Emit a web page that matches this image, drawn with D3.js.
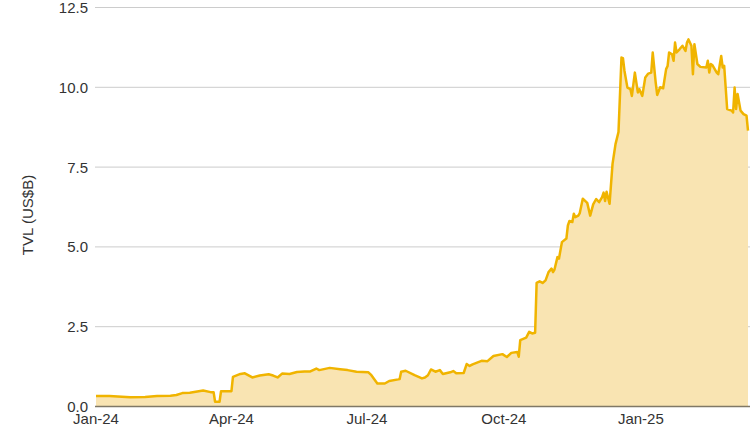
<!DOCTYPE html>
<html>
<head>
<meta charset="utf-8">
<script src="https://cdn.jsdelivr.net/npm/d3@7"></script>
<style>
  body { margin: 0; background: #fff; }
  text { font-family: "Liberation Sans", Arial, sans-serif; }
</style>
</head>
<body>
<div id="chart-area"></div>
<script>
// Data
const dates = [
  "2024-01-01","2024-01-10","2024-01-24","2024-02-03","2024-02-11","2024-02-20","2024-02-24","2024-02-28",
  "2024-03-04","2024-03-13","2024-03-18","2024-03-20","2024-03-21","2024-03-24","2024-03-25","2024-04-01",
  "2024-04-02","2024-04-07","2024-04-10","2024-04-15","2024-04-20","2024-04-26","2024-04-29","2024-05-02",
  "2024-05-05","2024-05-10","2024-05-15","2024-05-20","2024-05-24","2024-05-28","2024-05-30","2024-06-06",
  "2024-06-13","2024-06-18","2024-06-24","2024-07-02","2024-07-04","2024-07-08","2024-07-13","2024-07-16",
  "2024-07-22","2024-07-23","2024-07-24","2024-07-27","2024-08-02","2024-08-07","2024-08-09","2024-08-11",
  "2024-08-13","2024-08-16","2024-08-19","2024-08-21","2024-08-26","2024-08-28","2024-08-30","2024-09-04",
  "2024-09-06","2024-09-08","2024-09-10","2024-09-16","2024-09-20","2024-09-24","2024-09-30","2024-10-03",
  "2024-10-06","2024-10-10","2024-10-11","2024-10-12","2024-10-16","2024-10-18","2024-10-20","2024-10-22",
  "2024-10-23","2024-10-25","2024-10-27","2024-10-29","2024-10-31","2024-11-02","2024-11-03","2024-11-04",
  "2024-11-06","2024-11-07","2024-11-09","2024-11-12","2024-11-13","2024-11-14","2024-11-16","2024-11-17",
  "2024-11-18","2024-11-20","2024-11-21","2024-11-23","2024-11-26","2024-11-28","2024-11-30","2024-12-02",
  "2024-12-04","2024-12-06","2024-12-07","2024-12-08","2024-12-09","2024-12-11","2024-12-13","2024-12-15",
  "2024-12-17","2024-12-19","2024-12-20","2024-12-21","2024-12-23","2024-12-25","2024-12-26","2024-12-28",
  "2024-12-30","2024-12-31","2025-01-02","2025-01-04","2025-01-06","2025-01-08","2025-01-09","2025-01-11",
  "2025-01-12","2025-01-14","2025-01-16","2025-01-18","2025-01-19","2025-01-20","2025-01-22","2025-01-23",
  "2025-01-24","2025-01-25","2025-01-27","2025-01-29","2025-01-31","2025-02-01","2025-02-02","2025-02-04",
  "2025-02-05","2025-02-06","2025-02-08","2025-02-10","2025-02-14","2025-02-15","2025-02-16","2025-02-17",
  "2025-02-18","2025-02-21","2025-02-22","2025-02-24","2025-02-25","2025-02-26","2025-02-28","2025-03-03",
  "2025-03-04","2025-03-05","2025-03-06","2025-03-07","2025-03-09","2025-03-11","2025-03-13","2025-03-14"
]
const tvl = [
  0.33,0.33,0.29,0.30,0.33,0.34,0.36,0.42,
  0.43,0.50,0.45,0.45,0.15,0.15,0.48,0.48,
  0.93,1.02,1.04,0.91,0.97,1.01,0.97,0.91,
  1.03,1.02,1.08,1.10,1.10,1.19,1.14,1.21,
  1.17,1.14,1.09,1.07,0.98,0.72,0.72,0.80,
  0.85,0.86,1.09,1.12,0.98,0.88,0.91,0.98,
  1.16,1.09,1.14,1.02,1.07,1.11,1.04,1.05,
  1.33,1.27,1.32,1.43,1.42,1.58,1.64,1.55,
  1.68,1.71,1.56,2.08,2.16,2.34,2.29,2.31,
  3.87,3.92,3.87,3.95,4.21,4.32,4.21,4.29,
  4.68,4.63,5.15,5.26,5.67,5.81,5.78,6.04,
  5.93,5.98,6.06,6.51,6.38,5.98,6.33,6.50,
  6.40,6.56,6.70,6.44,6.73,6.35,7.60,8.22,
  8.60,10.93,10.91,10.52,9.99,9.94,9.73,10.46,
  9.84,9.94,9.73,10.31,10.43,10.46,11.09,10.15,
  9.76,10.00,9.97,10.57,10.67,11.09,11.03,10.83,
  11.40,11.09,11.19,11.30,11.14,11.40,11.50,11.30,
  10.41,11.35,10.73,10.64,10.62,10.83,10.46,10.73,
  10.70,10.46,10.41,10.98,10.62,10.67,9.32,9.27,
  9.21,9.99,9.32,9.79,9.27,9.16,9.11,8.64
]
const yTicks = [0, 2.5, 5, 7.5, 10, 12.5]
const xTicks = ["2024-01-01","2024-04-01","2024-07-01","2024-10-01","2025-01-01"]
const xDomain = ["2024-01-01","2025-03-14"]

const W = 750, H = 430
const MARGIN = { LEFT: 96, RIGHT: 2, TOP: 7.5, BOTTOM: 23.5 }

const parse = d3.timeParse("%Y-%m-%d")
const data = dates.map((d, i) => ({ date: parse(d), value: tvl[i] }))

const svg = d3.select("#chart-area").append("svg")
  .attr("width", W)
  .attr("height", H)

const x = d3.scaleTime()
  .domain(xDomain.map(parse))
  .range([MARGIN.LEFT, W - MARGIN.RIGHT])
const y = d3.scaleLinear()
  .domain([0, 12.5])
  .range([H - MARGIN.BOTTOM, MARGIN.TOP])

// grid
svg.append("g")
  .selectAll("line")
  .data(yTicks)
  .join("line")
  .attr("x1", MARGIN.LEFT - 1)
  .attr("x2", W)
  .attr("y1", d => y(d))
  .attr("y2", d => y(d))
  .attr("stroke", "#cccccc")
  .attr("stroke-width", 1)

// y tick labels
svg.append("g")
  .selectAll("text")
  .data(yTicks)
  .join("text")
  .attr("x", 88)
  .attr("y", d => y(d))
  .attr("dy", "0.36em")
  .attr("text-anchor", "end")
  .attr("fill", "#333")
  .style("font-size", "15px")
  .text(d3.format(".1f"))

// area + line
const area = d3.area()
  .x(d => x(d.date))
  .y0(y(0))
  .y1(d => y(d.value))
const line = d3.line()
  .x(d => x(d.date))
  .y(d => y(d.value))

svg.append("path")
  .datum(data)
  .attr("d", area)
  .attr("fill", "#f9e4b2")

svg.append("path")
  .datum(data)
  .attr("d", line)
  .attr("fill", "none")
  .attr("stroke", "#f0b400")
  .attr("stroke-width", 2.5)
  .attr("stroke-linejoin", "round")

// baseline
svg.append("line")
  .attr("x1", MARGIN.LEFT - 1)
  .attr("x2", W)
  .attr("y1", y(0))
  .attr("y2", y(0))
  .attr("stroke", "#807866")
  .attr("stroke-width", 1.5)

// x tick labels
const fmt = d3.timeFormat("%b-%y")
svg.append("g")
  .selectAll("text")
  .data(xTicks.map(parse))
  .join("text")
  .attr("x", d => x(d))
  .attr("y", 424)
  .attr("text-anchor", "middle")
  .attr("fill", "#333")
  .style("font-size", "15px")
  .text(d => fmt(d))

// y axis title
svg.append("text")
  .attr("transform", "translate(33,215) rotate(-90)")
  .attr("text-anchor", "middle")
  .attr("fill", "#333")
  .style("font-size", "15px")
  .text("TVL (US$B)")
</script>
</body>
</html>
